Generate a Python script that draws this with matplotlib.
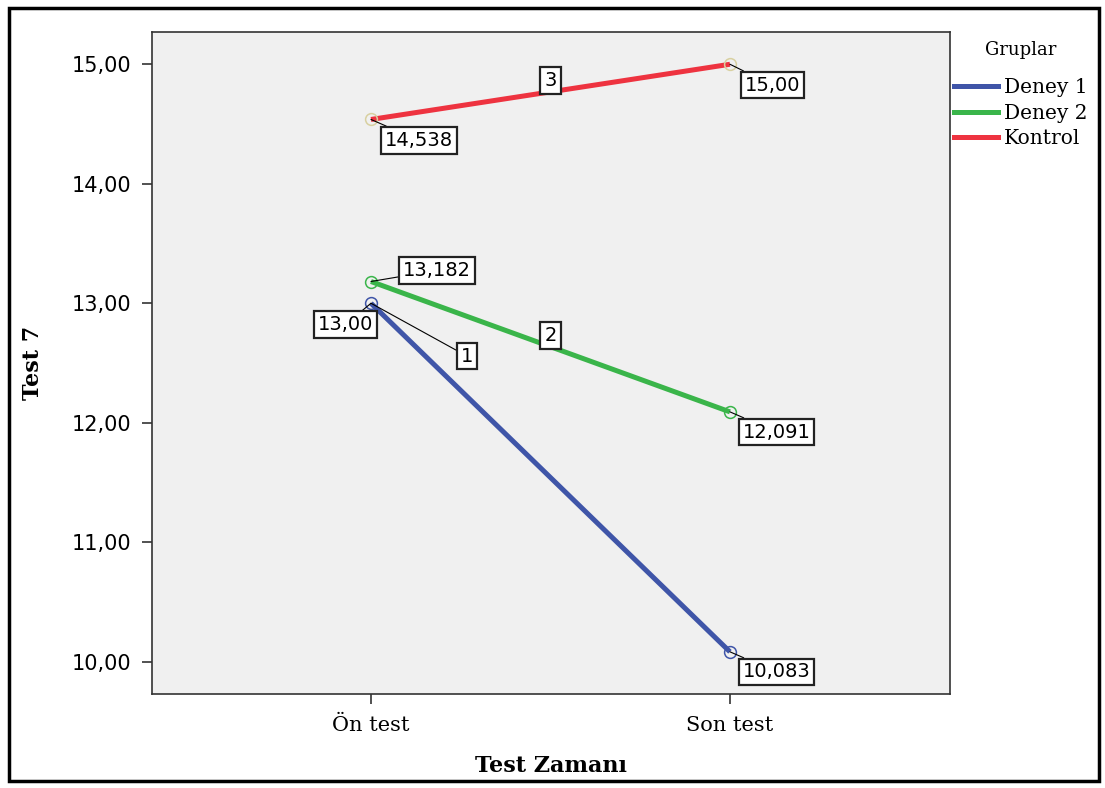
import matplotlib
matplotlib.use("Agg")
import matplotlib.pyplot as plt
from matplotlib.patches import Rectangle
from matplotlib.lines import Line2D

# Data
categories = ["Ön test", "Son test"]
groups = ["Deney 1", "Deney 2", "Kontrol"]
deney1 = [13.00, 10.083]
deney2 = [13.182, 12.091]
kontrol = [14.538, 15.00]
value_labels = {
    "Deney 1": ["13,00", "10,083"],
    "Deney 2": ["13,182", "12,091"],
    "Kontrol": ["14,538", "15,00"],
}
line_ids = ["1", "2", "3"]
yticks = [10, 11, 12, 13, 14, 15]
ytick_labels = ["10,00", "11,00", "12,00", "13,00", "14,00", "15,00"]

colors = {"Deney 1": "#3f55a8", "Deney 2": "#3ab54a", "Kontrol": "#ee3340"}
marker_colors = {"Deney 1": "#3f55a8", "Deney 2": "#3ab54a", "Kontrol": "#d8d0a0"}
series = {"Deney 1": deney1, "Deney 2": deney2, "Kontrol": kontrol}

W, H = 1105, 788
fig = plt.figure(figsize=(W / 100, H / 100), dpi=100)
fig.patch.set_facecolor("white")

# outer border
fig.patches.append(Rectangle((9 / W, 1 - 781 / H), (1099 - 9) / W, (781 - 8) / H,
                             transform=fig.transFigure, fill=False, ec="black", lw=2.5))

ax = fig.add_axes([152 / W, 1 - 694 / H, (950 - 152) / W, (694 - 32) / H])
ax.set_facecolor("#f0f0f0")
for s in ax.spines.values():
    s.set_color("#333333")
    s.set_linewidth(1.2)

x = list(range(len(categories)))
for g in groups:
    ax.plot(x, series[g], color=colors[g], lw=3.6, solid_capstyle="butt", zorder=3)
    ax.plot(x, series[g], ls="none", marker="o", ms=8.5, mfc="none",
            mec=marker_colors[g], mew=1.1, zorder=4)

ax.set_xlim(-0.61, 1.613)
ax.set_ylim(9.73, 15.27)
ax.set_xticks(x)
ax.set_xticklabels(categories, family="DejaVu Serif", fontsize=15)
ax.set_yticks(yticks)
ax.set_yticklabels(ytick_labels, family="DejaVu Sans", fontsize=15)
ax.tick_params(axis="both", direction="out", length=7, width=1.2, color="#333333")
ax.tick_params(axis="y", pad=8)
ax.tick_params(axis="x", pad=9)

ax.set_xlabel("Test Zamanı", family="DejaVu Serif", fontweight="bold", fontsize=16, labelpad=14)
ax.set_ylabel("Test 7", family="DejaVu Serif", fontweight="bold", fontsize=16, labelpad=20)

bbox = dict(boxstyle="square,pad=0.2", fc="white", ec="#222222", lw=1.6)
arrow = dict(arrowstyle="-", color="black", lw=0.8, shrinkA=0, shrinkB=0)

# value label offsets in points
offsets = {
    "Deney 1": [(-18.5, -15.5), (33.5, -14.5)],
    "Deney 2": [(47.5, 8.0), (33.5, -14.5)],
    "Kontrol": [(34.5, -15.0), (30.5, -15.0)],
}
for g in groups:
    for i, xi in enumerate(x):
        ax.annotate(value_labels[g][i], xy=(xi, series[g][i]), xytext=offsets[g][i],
                    textcoords="offset points", ha="center", va="center",
                    family="DejaVu Sans", fontsize=14, bbox=bbox, arrowprops=arrow, zorder=6)

# line id labels
ax.annotate(line_ids[0], xy=(0, deney1[0]), xytext=(69, -38), textcoords="offset points",
            ha="center", va="center", family="DejaVu Sans", fontsize=14, bbox=bbox,
            arrowprops=arrow, zorder=6)
for lid, g in zip(line_ids[1:], ["Deney 2", "Kontrol"]):
    mid = (series[g][0] + series[g][1]) / 2
    ax.annotate(lid, xy=(0.5, mid), xytext=(0, 8), textcoords="offset points",
                ha="center", va="center", family="DejaVu Sans", fontsize=14, bbox=bbox, zorder=6)

handles = [Line2D([0], [0], color=colors[g], lw=3.6) for g in groups]
leg = fig.legend(handles, groups, loc="upper left", bbox_to_anchor=(954 / W, 1 - 41 / H),
                 frameon=False, prop={"family": "DejaVu Serif", "size": 14.5},
                 title="Gruplar", title_fontproperties={"family": "DejaVu Serif", "size": 13},
                 handlelength=2.2, handletextpad=0.3, labelspacing=0.32, borderaxespad=0,
                 borderpad=0)
leg._legend_box.align = "center"
leg._legend_box.sep = 14

fig.savefig("out.png", dpi=100)
